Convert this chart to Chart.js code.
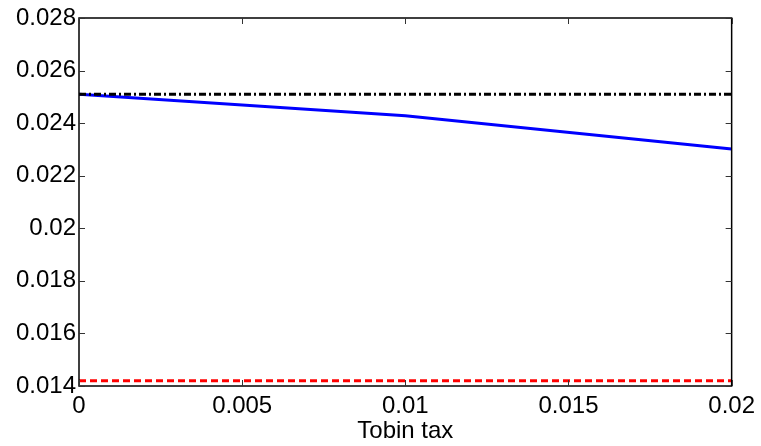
<!DOCTYPE html>
<html>
<head>
<meta charset="utf-8">
<script src="https://cdn.jsdelivr.net/npm/chart.js@4/dist/chart.umd.min.js"></script>
<style>
  html, body { margin: 0; padding: 0; background: #fff; }
</style>
</head>
<body>
<canvas id="taxChart" width="761" height="446"></canvas>
<script>
const taxRates = [0, 0.01, 0.02];
const blueSeries = [0.0251, 0.02428, 0.02302];
const blackSeries = [0.0251, 0.0251, 0.0251];
const redSeries = [0.0142, 0.0142, 0.0142];

const xTicks = [0, 0.005, 0.01, 0.015, 0.02];
const xTickLabels = ["0", "0.005", "0.01", "0.015", "0.02"];
const yTicks = [0.014, 0.016, 0.018, 0.02, 0.022, 0.024, 0.026, 0.028];
const yTickLabels = ["0.014", "0.016", "0.018", "0.02", "0.022", "0.024", "0.026", "0.028"];

const toPoints = (ys) => taxRates.map((x, i) => ({ x: x, y: ys[i] }));

// matlab style box with inward ticks
const boxPlugin = {
  id: "box",
  afterDraw(chart) {
    const ctx = chart.ctx;
    const a = chart.chartArea;
    const xs = chart.scales.x;
    const ys = chart.scales.y;
    const len = 6;
    ctx.save();
    ctx.strokeStyle = "#000";
    ctx.lineWidth = 1.5;
    ctx.strokeRect(a.left, a.top, a.right - a.left, a.bottom - a.top);
    ctx.lineWidth = 1;
    ctx.strokeStyle = "#333";
    ctx.beginPath();
    xTicks.forEach((v) => {
      const px = Math.round(xs.getPixelForValue(v)) + 0.5;
      ctx.moveTo(px, a.bottom); ctx.lineTo(px, a.bottom - len);
      ctx.moveTo(px, a.top); ctx.lineTo(px, a.top + len);
    });
    yTicks.forEach((v) => {
      const py = Math.round(ys.getPixelForValue(v)) + 0.5;
      ctx.moveTo(a.left, py); ctx.lineTo(a.left + len, py);
      ctx.moveTo(a.right, py); ctx.lineTo(a.right - len, py);
    });
    ctx.stroke();
    ctx.restore();
  }
};

const font = { family: "'Liberation Sans', Arial, sans-serif", size: 24 };

new Chart(document.getElementById("taxChart"), {
  type: "line",
  data: {
    datasets: [
      {
        data: toPoints(redSeries),
        borderColor: "#ff0000",
        borderWidth: 3,
        borderDash: [7, 4],
        pointRadius: 0,
        fill: false
      },
      {
        data: toPoints(blackSeries),
        borderColor: "#000000",
        borderWidth: 3,
        borderDash: [7, 3, 2, 3],
        pointRadius: 0,
        fill: false
      },
      {
        data: toPoints(blueSeries),
        borderColor: "#0000ff",
        borderWidth: 3,
        pointRadius: 0,
        fill: false
      }
    ]
  },
  options: {
    responsive: false,
    animation: false,
    layout: { padding: { top: 18, right: 28, left: 0, bottom: 0 } },
    plugins: { legend: { display: false }, tooltip: { enabled: false } },
    scales: {
      x: {
        type: "linear",
        min: 0,
        max: 0.02,
        grid: { display: false, drawTicks: false },
        border: { display: false },
        afterBuildTicks: (s) => { s.ticks = xTicks.map((v) => ({ value: v })); },
        afterFit: (s) => { s.height = 60; },
        ticks: {
          color: "#000",
          font: font,
          padding: 6,
          maxRotation: 0,
          autoSkip: false,
          callback: (v, i) => xTickLabels[i]
        },
        title: {
          display: true,
          text: "Tobin tax",
          color: "#000",
          font: font,
          padding: { top: -7, bottom: 0 }
        }
      },
      y: {
        type: "linear",
        min: 0.014,
        max: 0.028,
        grid: { display: false, drawTicks: false },
        border: { display: false },
        afterBuildTicks: (s) => { s.ticks = yTicks.map((v) => ({ value: v })); },
        afterFit: (s) => { s.width = 79; },
        ticks: {
          color: "#000",
          font: font,
          padding: 3,
          autoSkip: false,
          callback: (v, i) => yTickLabels[i]
        }
      }
    }
  },
  plugins: [boxPlugin]
});
</script>
</body>
</html>
